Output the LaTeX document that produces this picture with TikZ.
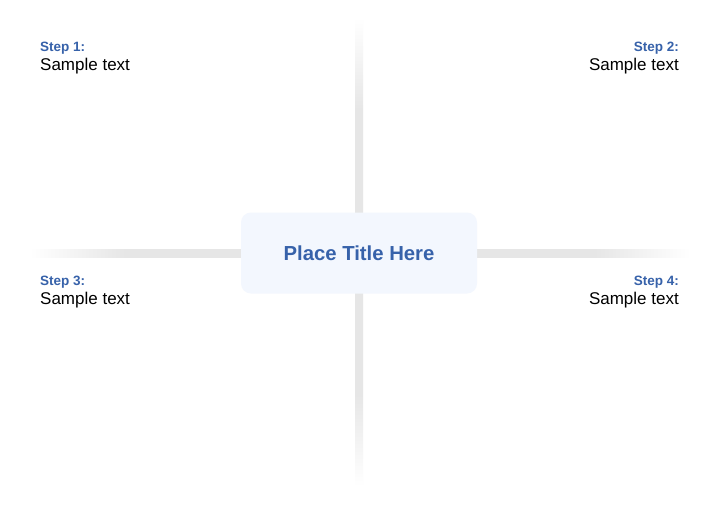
\documentclass[tikz,border=0pt]{standalone}
\usepackage{fontspec}
\setmainfont{Liberation Sans}
\definecolor{titleblue}{HTML}{3762AA}
\definecolor{boxfill}{HTML}{F3F7FE}
\definecolor{lineg}{HTML}{E6E6E6}
\pgfdeclarehorizontalshading{hfade}{100bp}{color(0bp)=(white); color(25bp)=(white); color(32.2bp)=(lineg); color(67.8bp)=(lineg); color(75bp)=(white); color(100bp)=(white)}
\pgfdeclareverticalshading{vfade}{100bp}{color(0bp)=(white); color(25bp)=(white); color(34.8bp)=(lineg); color(65.2bp)=(lineg); color(75bp)=(white); color(100bp)=(white)}
\begin{document}
\begin{tikzpicture}[x=1pt,y=-1pt,
  steplabel/.style={font=\bfseries\fontsize{13.5}{15}\selectfont, text=titleblue, inner sep=0pt},
  sampletext/.style={font=\fontsize{17}{19}\selectfont, text=black, inner sep=0pt},
  titlebox/.style={rounded corners=10pt, fill=boxfill, minimum width=236pt, minimum height=81pt,
    font=\bfseries\fontsize{20.3}{23}\selectfont, text=titleblue}]
\useasboundingbox[fill=white] (0,0) rectangle (720,504);
% fading lines
\shade[shading=vfade] (355,18) rectangle (363,486);
\shade[shading=hfade] (30,249) rectangle (690,257);
% title
\node[titlebox] (title) at (359,253) {Place Title Here};
% steps
\node[steplabel, anchor=base west] (s1) at (40,51) {Step 1:};
\node[sampletext, anchor=base west] (t1) at (40,70) {Sample text};
\node[steplabel, anchor=base east] (s2) at (679,51) {Step 2:};
\node[sampletext, anchor=base east] (t2) at (679,70) {Sample text};
\node[steplabel, anchor=base west] (s3) at (40,285) {Step 3:};
\node[sampletext, anchor=base west] (t3) at (40,304) {Sample text};
\node[steplabel, anchor=base east] (s4) at (679,285) {Step 4:};
\node[sampletext, anchor=base east] (t4) at (679,304) {Sample text};
\end{tikzpicture}
\end{document}
